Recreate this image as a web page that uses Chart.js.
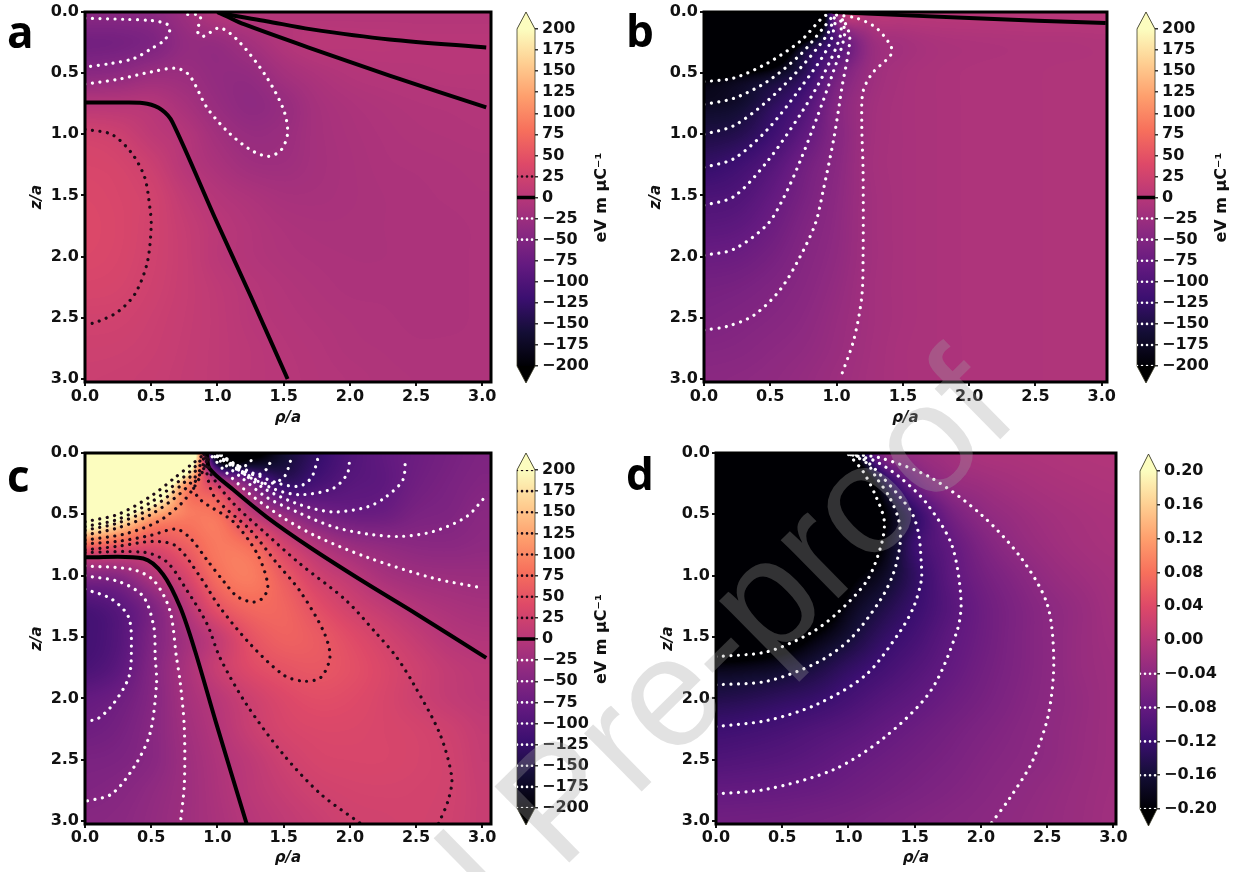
<!DOCTYPE html>
<html><head><meta charset="utf-8">
<style>
html,body{margin:0;padding:0;background:#fff;width:1238px;height:872px;overflow:hidden}
canvas{position:absolute;filter:blur(.4px)}
svg{position:absolute;left:0;top:0;pointer-events:none}
</style>
<script src="https://cdn.jsdelivr.net/npm/chart.js@4/dist/chart.umd.js"></script>
</head><body>
<canvas id="pa"></canvas><canvas id="ca"></canvas>
<canvas id="pb"></canvas><canvas id="cb"></canvas>
<canvas id="pc"></canvas><canvas id="cc"></canvas>
<canvas id="pd"></canvas><canvas id="cd"></canvas>
<svg width="1238" height="872">
<g font-family="Open Sans" font-weight="700" font-size="44" fill="#000">
<text x="7" y="48">a</text><text x="626" y="47">b</text><text x="7" y="492">c</text><text x="626" y="490">d</text>
</g>
<text x="167" y="1258" transform="rotate(-44.5 167 1258)" font-family="Liberation Sans" font-size="155" fill="rgba(160,160,160,.31)">Journal Pre-proof</text>
</svg>
<script>
// ---------- axes ----------
const axisTicks=[0,0.5,1,1.5,2,2.5,3];
const gridStep=0.25;
const barTicksField=[200,175,150,125,100,75,50,25,0,-25,-50,-75,-100,-125,-150,-175,-200];
const barTicksD=[0.2,0.16,0.12,0.08,0.04,0,-0.04,-0.08,-0.12,-0.16,-0.2];
const levelsA=[25,0,-25,-50];
const levelsB=[0,-25,-50,-75,-100,-125,-150,-175,-200];
const levelsC=[200,175,150,125,100,75,50,25,0,-25,-50,-75,-100,-125,-150,-175,-200];
const levelsD=[-0.04,-0.08,-0.12,-0.16,-0.2];
const magmaStops=['#000004','#140e36','#3b0f70','#641a80','#8c2981','#b73779','#de4968','#f7705c','#fe9f6d','#fecf92','#fcfdbf'];

// ---------- field values: rows z/a = 0..3, columns rho/a = 0..3, step .25 ----------
const fieldA=[
[-42,-43,-40,-25,-2,-1,-2,-3,-3,-3,-3,-3,-3],
[-64,-62,-54,-34,-31,-18,-5,2,2,2,1,1,1],
[-42,-38,-28,-27,-34,-33,-18,-9,-4,-2,-1,0,0],
[-1,-1,-2,-15,-30,-38,-30,-16,-10,-7,-5,-4,-3],
[26,21,7,-3,-20,-30,-27,-17,-12,-9,-7,-6,-5],
[33,30,19,0,-12,-22,-23,-17,-13,-10,-9,-8,-7],
[36,33,26,9,-3,-10,-15,-15,-13,-11,-10,-9,-8],
[37,34,26,14,3,-5,-10,-12,-12,-11,-10,-10,-9],
[36,33,25,15,3,-4,-8,-10,-11,-11,-10,-10,-9],
[32,30,23,15,7,0,-5,-8,-10,-10,-10,-10,-9],
[26,25,20,14,8,1,-3,-6,-8,-9,-10,-10,-9],
[22,21,18,13,8,3,-1,-4,-7,-8,-9,-9,-9],
[19,18,16,12,8,3,0,-3,-5,-7,-8,-9,-9]];
const fieldB=[
[-700,-700,-650,-550,-35,1,2,2,2,2,2,2,2],
[-500,-450,-350,-195,-100,-30,-18,-12,-10,-9,-8,-8,-7],
[-225,-205,-180,-138,-65,-27,-15,-11,-9,-8,-8,-7,-7],
[-175,-167,-137,-104,-48,-22,-14,-11,-9,-8,-8,-7,-7],
[-150,-143,-119,-85,-47,-21,-14,-11,-9,-8,-8,-7,-7],
[-127,-116,-96,-67,-43,-20,-14,-11,-9,-8,-8,-7,-7],
[-105,-100,-82,-60,-40,-21,-14,-11,-9,-8,-8,-7,-7],
[-90,-86,-72,-53,-38,-21,-14,-11,-9,-8,-8,-7,-7],
[-75,-72,-62,-48,-36,-21,-14,-11,-9,-8,-8,-7,-7],
[-63,-60,-53,-44,-33,-20,-14,-11,-9,-8,-8,-7,-7],
[-56,-52,-47,-40,-30,-20,-14,-11,-9,-8,-8,-7,-7],
[-48,-46,-41,-36,-28,-19,-13,-11,-9,-8,-8,-7,-7],
[-42,-40,-37,-32,-25,-18,-13,-11,-9,-8,-8,-7,-7]];
const fieldC=[
[500,500,500,400,-230,-220,-165,-128,-100,-84,-72,-62,-54],
[450,450,350,125,18,-58,-125,-108,-92,-85,-68,-58,-50],
[300,230,135,92,80,12,-30,-60,-73,-72,-58,-53,-43],
[72,58,42,62,88,75,28,-5,-27,-36,-41,-42,-38],
[-50,-45,-8,30,78,90,58,25,6,-14,-23,-26,-27],
[-105,-90,-55,-3,50,72,68,45,25,10,-4,-12,-16],
[-112,-95,-55,-20,13,50,65,58,42,27,12,-1,-6],
[-105,-88,-50,-15,17,40,51,55,47,35,22,10,4],
[-80,-70,-48,-18,2,22,37,44,41,33,22,12,6],
[-70,-62,-45,-22,-3,17,31,36,36,33,29,22,12],
[-58,-55,-44,-25,-8,7,22,31,33,33,30,25,14],
[-52,-47,-37,-25,-10,4,15,24,28,29,28,25,16],
[-45,-42,-34,-24,-12,0,9,17,24,26,27,24,16]];
const fieldD=[
[-.6,-.6,-.6,-.6,-.25,-.05,-.03,-.02,-.012,-.01,-.008,-.006,-.005],
[-.6,-.6,-.6,-.5,-.35,-.165,-.07,-.035,-.025,-.018,-.013,-.01,-.008],
[-.6,-.6,-.55,-.45,-.32,-.21,-.13,-.068,-.04,-.028,-.02,-.015,-.012],
[-.55,-.55,-.5,-.4,-.29,-.2,-.12,-.085,-.055,-.036,-.025,-.018,-.014],
[-.5,-.48,-.43,-.33,-.22,-.175,-.13,-.09,-.065,-.048,-.033,-.024,-.018],
[-.38,-.36,-.32,-.26,-.185,-.15,-.122,-.095,-.072,-.055,-.041,-.03,-.02],
[-.29,-.27,-.24,-.195,-.16,-.13,-.11,-.088,-.071,-.055,-.042,-.03,-.022],
[-.185,-.18,-.17,-.152,-.13,-.113,-.097,-.082,-.067,-.054,-.042,-.03,-.024],
[-.145,-.14,-.132,-.124,-.11,-.096,-.085,-.073,-.062,-.051,-.041,-.032,-.024],
[-.118,-.114,-.108,-.1,-.092,-.082,-.073,-.064,-.055,-.047,-.039,-.031,-.024],
[-.1,-.097,-.093,-.087,-.079,-.072,-.065,-.058,-.05,-.044,-.038,-.03,-.024],
[-.081,-.08,-.078,-.075,-.07,-.064,-.058,-.052,-.046,-.04,-.034,-.028,-.023],
[-.068,-.067,-.066,-.063,-.06,-.055,-.05,-.046,-.042,-.037,-.032,-.027,-.022]];

// ---------- contours: [level, [rho/a, z/a] ...] ----------
const contoursA=[
[-50,[[0,.05],[.3,.06],[.5,.07],[.62,.1],[.64,.15],[.6,.23],[.5,.3],[.37,.38],[.2,.42],[0,.45]]],
[-25,[[0,.59],[.25,.55],[.5,.49],[.69,.46],[.79,.52],[.92,.78],[1.07,.97],[1.24,1.12],[1.38,1.18],[1.48,1.13],[1.53,.99],[1.5,.8],[1.37,.53],[1.17,.25],[1.02,.13],[.89,.2],[.85,.16],[.87,.03],[.76,.02]]],
[0,[[0,.74],[.3,.74],[.47,.75],[.58,.8],[.66,.9],[.98,1.68],[1.25,2.32],[1.53,3.0]]],
[0,[[1,0],[1.1,.025],[1.37,.075],[1.7,.14],[2.3,.225],[3.03,.29]]],
[0,[[1,0],[1.06,.03],[1.2,.1],[1.7,.295],[2.3,.52],[3.03,.78]]],
[25,[[0,.96],[.2,1.0],[.35,1.15],[.45,1.35],[.49,1.6],[.5,1.75],[.47,2.05],[.38,2.3],[.25,2.45],[.1,2.53],[0,2.56]]]];
const contoursB=[
[-200,[[0,.57],[.224,.54],[.475,.42],[.725,.24],[.876,.065],[.94,.01]]],
[-175,[[0,.755],[.224,.706],[.475,.57],[.725,.35],[.9,.13],[.98,.02]]],
[-150,[[0,1.0],[.224,.93],[.475,.73],[.725,.46],[.926,.19],[.99,.03]]],
[-125,[[0,1.27],[.224,1.2],[.475,.965],[.725,.625],[.94,.28],[1.0,.04]]],
[-100,[[0,1.58],[.224,1.51],[.475,1.225],[.725,.84],[.9,.515],[1.03,.19],[1.03,.04]]],
[-75,[[0,1.99],[.224,1.94],[.475,1.74],[.6,1.52],[.725,1.22],[.85,.87],[.975,.49],[1.06,.19],[1.04,.04]]],
[-50,[[0,2.6],[.175,2.57],[.375,2.48],[.575,2.27],[.725,2.0],[.84,1.73],[.9,1.455],[.98,1.03],[1.04,.62],[1.1,.21],[1.05,.05]]],
[-25,[[1.0,.025],[1.15,.05],[1.3,.13],[1.41,.28],[1.41,.35],[1.27,.5],[1.2,.65],[1.19,.9],[1.2,1.3],[1.2,2.0],[1.19,2.33],[1.13,2.68],[1.03,2.99]]],
[0,[[.97,0],[2,.05],[3.03,.09]]]];
const contoursC=[
[200,[[0,.56],[.25,.5],[.5,.35],[.68,.2],[.82,.08],[.9,.01]]],
[175,[[0,.6],[.25,.54],[.5,.4],[.72,.22],[.85,.09],[.9,.01]]],
[150,[[0,.63],[.25,.57],[.5,.45],[.74,.25],[.87,.1],[.91,.01]]],
[125,[[0,.67],[.25,.61],[.5,.5],[.75,.3],[.88,.12],[.92,.01]]],
[100,[[0,.71],[.3,.66],[.55,.56],[.72,.42],[.83,.27],[.9,.12],[.93,.01]]],
[75,[[0,.74],[.25,.72],[.5,.67],[.69,.62],[.8,.7],[.92,.87],[1.05,1.05],[1.15,1.17],[1.27,1.215],[1.35,1.175],[1.38,1.07],[1.3,.82],[1.12,.56],[.87,.38],[.82,.27],[.9,.12],[.93,.02]]],
[50,[[0,.79],[.25,.76],[.52,.72],[.69,.76],[.87,1.01],[1.02,1.26],[1.25,1.56],[1.5,1.81],[1.65,1.86],[1.78,1.83],[1.85,1.66],[1.8,1.45],[1.62,1.12],[1.45,.9],[1.25,.63],[.98,.36],[.92,.16],[.93,.02]]],
[25,[[0,.81],[.45,.81],[.62,.89],[.77,1.12],[.92,1.39],[1.02,1.67],[1.22,2.05],[1.5,2.46],[1.78,2.78],[2.08,3.02]]],
[25,[[2.67,3.02],[2.74,2.84],[2.77,2.65],[2.68,2.29],[2.48,1.88],[2.35,1.66],[2.2,1.47],[1.97,1.2],[1.62,.9],[1.37,.66],[1.12,.41],[.95,.17],[.93,.02]]],
[0,[[0,.85],[.44,.86],[.59,.99],[.72,1.26],[.83,1.61],[.99,2.2],[1.22,3.02]]],
[0,[[.92,0],[.94,.125],[1.12,.3],[1.37,.52],[1.7,.77],[2.12,1.06],[2.5,1.31],[3.03,1.67]]],
[-25,[[.96,.03],[1.05,.14],[1.24,.33],[1.5,.53],[1.75,.68],[2.13,.85],[2.63,1.02],[3.0,1.1]]],
[-50,[[.98,.03],[1.17,.19],[1.37,.36],[1.62,.49],[1.87,.6],[2.13,.66],[2.38,.68],[2.63,.64],[2.88,.52],[3.02,.36]]],
[-75,[[1.0,.03],[1.17,.15],[1.37,.3],[1.62,.42],[1.87,.48],[2.13,.44],[2.27,.36],[2.4,.22],[2.42,.04]]],
[-100,[[1.0,.02],[1.17,.14],[1.42,.29],[1.62,.34],[1.87,.29],[1.98,.17],[2.0,.03]]],
[-125,[[1.02,.02],[1.24,.15],[1.47,.25],[1.62,.27],[1.71,.2],[1.76,.04]]],
[-150,[[1.03,.02],[1.2,.17],[1.37,.25],[1.5,.2],[1.56,.04]]],
[-175,[[1.03,.01],[1.17,.13],[1.3,.18],[1.38,.12],[1.41,.03]]],
[-200,[[1,.03],[1.14,.1],[1.22,.1],[1.27,.04]]],
[-25,[[0,.92],[.36,.95],[.52,1.04],[.64,1.28],[.69,1.66],[.72,1.88],[.75,2.24],[.75,2.7],[.72,3.02]]],
[-50,[[0,1.0],[.26,1.05],[.44,1.17],[.52,1.42],[.53,1.66],[.54,1.88],[.49,2.29],[.37,2.56],[.2,2.78],[0,2.84]]],
[-75,[[0,1.11],[.2,1.19],[.33,1.34],[.35,1.61],[.33,1.83],[.21,2.05],[.09,2.17],[0,2.18]]]];
const contoursD=[
[-.2,[[0,1.66],[.386,1.62],[.71,1.47],[.91,1.31],[1.14,1.04],[1.25,.74],[1.27,.55],[1.21,.36],[1.11,.15],[1.0,.01]]],
[-.16,[[0,1.89],[.386,1.86],[.76,1.71],[1.01,1.52],[1.24,1.2],[1.34,.98],[1.39,.74],[1.38,.55],[1.31,.36],[1.21,.2],[1.14,.085],[1.02,.01]]],
[-.12,[[0,2.23],[.386,2.18],[.76,2.05],[1.13,1.81],[1.38,1.47],[1.49,1.26],[1.55,1.04],[1.55,.9],[1.53,.66],[1.48,.49],[1.39,.36],[1.26,.2],[1.14,.07],[1.04,.01]]],
[-.08,[[0,2.78],[.386,2.74],[.89,2.58],[1.27,2.32],[1.62,1.94],[1.82,1.45],[1.85,1.2],[1.78,.75],[1.59,.41],[1.39,.2],[1.19,.06],[1.0,.01]]],
[-.04,[[1.0,.01],[1.24,.04],[1.62,.2],[2.0,.5],[2.3,.85],[2.5,1.23],[2.55,1.69],[2.51,2.13],[2.39,2.51],[2.22,2.81],[2.07,3.03]]]];

// ---------- colour map ----------
const lut=(()=>{const rgb=magmaStops.map(h=>[1,3,5].map(i=>parseInt(h.substr(i,2),16)));const o=[];
for(let i=0;i<=255;i++){const t=i/255*(rgb.length-1),k=Math.min(rgb.length-2,Math.floor(t)),f=t-k;
o.push([0,1,2].map(c=>rgb[k][c]+(rgb[k+1][c]-rgb[k][c])*f));}return o;})();
const colorAt=(v,vmax)=>lut[Math.max(0,Math.min(255,Math.round((v+vmax)/(2*vmax)*255)))];

const cr=(a,b,c,d,t)=>b+.5*t*(c-a+t*(2*a-5*b+4*c-d+t*(3*(b-c)+d-a)));
function sample(g,x,y){const n=g.length,m=g[0].length;
 const gx=Math.max(0,Math.min(m-1,x/gridStep)),gy=Math.max(0,Math.min(n-1,y/gridStep));
 const i=Math.min(m-2,Math.floor(gx)),j=Math.min(n-2,Math.floor(gy)),tx=gx-i,ty=gy-j;
 const col=jj=>{const r=g[Math.max(0,Math.min(n-1,jj))];const q=k=>r[Math.max(0,Math.min(m-1,k))];return cr(q(i-1),q(i),q(i+1),q(i+2),tx);};
 return cr(col(j-1),col(j),col(j+1),col(j+2),ty);}

const heatPlugin={id:'heat',beforeDatasetsDraw(chart){
 const {ctx,chartArea:a,scales:{x,y}}=chart,cfg=chart.options.plugins.heat;
 const L=Math.round(a.left),T=Math.round(a.top),W=Math.round(a.right-a.left),H=Math.round(a.bottom-a.top);
 const img=ctx.createImageData(W,H);
 for(let py=0;py<H;py++){const vy=y.getValueForPixel(T+py);
  for(let px=0;px<W;px++){const vx=x.getValueForPixel(L+px);
   const c=colorAt(sample(cfg.grid,vx,vy),cfg.vmax),o=(py*W+px)*4;
   img.data[o]=c[0];img.data[o+1]=c[1];img.data[o+2]=c[2];img.data[o+3]=255;}}
 ctx.putImageData(img,L,T);
}};
const framePlugin={id:'frame',afterDatasetsDraw(chart){const {ctx,chartArea:a}=chart;
 ctx.save();ctx.strokeStyle='#000';ctx.lineWidth=3;ctx.strokeRect(a.left,a.top,a.right-a.left,a.bottom-a.top);ctx.restore();}};

const lineStyle=lv=>lv===0?{borderColor:'#000',borderWidth:4,borderDash:[],borderCapStyle:'butt'}:
 {borderColor:lv<0?'#fff':'#1c0a16',borderWidth:3.2,borderDash:[.01,7.5],borderCapStyle:'round'};
const tickFont={family:'DejaVu Sans',weight:'bold',size:16};
const titleFont={family:'DejaVu Sans',weight:'bold',style:'italic',size:15};

function panel(id,box,grid,vmax,contours,xmax,ymax){
 const el=document.getElementById(id);el.width=box.w;el.height=box.h;el.style.left=box.l+'px';el.style.top=box.t+'px';
 const ds=contours.map(([lv,pts])=>Object.assign({data:pts.map(p=>({x:p[0],y:p[1]})),showLine:true,pointRadius:0,tension:.3,fill:false},lineStyle(lv)));
 const axis=extra=>Object.assign({type:'linear',min:0,
  afterBuildTicks(s){s.ticks=axisTicks.map(v=>({value:v}));},
  grid:{display:true,drawOnChartArea:false,drawTicks:true,tickLength:4,lineWidth:2,color:'#111'},
  border:{display:false}},extra);
 new Chart(el,{type:'scatter',data:{datasets:ds},plugins:[heatPlugin,framePlugin],options:{
  responsive:false,animation:false,events:[],
  layout:{autoPadding:false,padding:{left:box.left-57,top:box.top,right:box.w-box.right,bottom:box.pb}},
  plugins:{legend:{display:false},tooltip:{enabled:false},heat:{grid,vmax}},
  scales:{
   x:axis({max:xmax,position:'bottom',
    ticks:{font:tickFont,color:'#111',padding:box.xp,maxRotation:0,autoSkip:false,callback:v=>v.toFixed(1)},
    title:{display:true,text:'ρ/a',font:titleFont,color:'#111',padding:0},
    afterFit(s){s.height=box.h-box.pb-box.bottom;}}),
   y:axis({max:ymax,reverse:true,position:'left',
    ticks:{font:tickFont,color:'#111',padding:2,autoSkip:false,callback:v=>v.toFixed(1)},
    title:{display:true,text:'z/a',font:titleFont,color:'#111',padding:0},
    afterFit(s){s.width=57;}})
  }}});
}

const barPlugin={id:'bar',beforeDatasetsDraw(chart){
 const {ctx,chartArea:a,scales:{y}}=chart,cfg=chart.options.plugins.bar;
 const top=y.getPixelForValue(cfg.vmax),bot=y.getPixelForValue(-cfg.vmax),mid=(a.left+a.right)/2;
 const g=ctx.createLinearGradient(0,bot,0,top);
 magmaStops.forEach((c,i)=>g.addColorStop(i/(magmaStops.length-1),c));
 ctx.save();
 ctx.beginPath();ctx.moveTo(a.left,top);ctx.lineTo(mid,top-cfg.tip);ctx.lineTo(a.right,top);ctx.lineTo(a.right,bot);ctx.lineTo(mid,bot+cfg.tip);ctx.lineTo(a.left,bot);ctx.closePath();
 ctx.fillStyle='#000';ctx.fill();
 ctx.beginPath();ctx.moveTo(a.left,top);ctx.lineTo(mid,top-cfg.tip);ctx.lineTo(a.right,top);ctx.closePath();ctx.fillStyle=magmaStops[magmaStops.length-1];ctx.fill();
 ctx.fillStyle=g;ctx.fillRect(a.left,top,a.right-a.left,bot-top);
 ctx.beginPath();ctx.moveTo(a.left,top);ctx.lineTo(mid,top-cfg.tip);ctx.lineTo(a.right,top);ctx.lineTo(a.right,bot);ctx.lineTo(mid,bot+cfg.tip);ctx.lineTo(a.left,bot);ctx.closePath();
 ctx.strokeStyle='rgba(50,50,30,.75)';ctx.lineWidth=1;ctx.stroke();
 ctx.restore();
},afterDraw(chart){
 const cfg=chart.options.plugins.bar;if(!cfg.label)return;
 const {ctx,chartArea:a}=chart;ctx.save();ctx.translate(a.left+cfg.labelDx,(a.top+a.bottom)/2);ctx.rotate(-Math.PI/2);
 ctx.font='bold 16px "DejaVu Sans"';ctx.fillStyle='#111';ctx.textAlign='center';ctx.textBaseline='middle';ctx.fillText(cfg.label,0,0);ctx.restore();
}};

function colorbar(id,l,t,barW,y1,y2,levels,ticks,vmax,fmt,label){
 const w=118,h=y2-t+30,el=document.getElementById(id);el.width=w;el.height=h;el.style.left=(l-8)+'px';el.style.top=t+'px';
 const ds=levels.map(lv=>Object.assign({data:[{x:0,y:lv},{x:1,y:lv}],showLine:true,pointRadius:0,fill:false},lineStyle(lv),lv===0?{borderWidth:3.5}:{borderWidth:2.6,borderDash:[.01,5]}));
 new Chart(el,{type:'scatter',data:{datasets:ds},plugins:[barPlugin],options:{
  responsive:false,animation:false,events:[],
  layout:{autoPadding:false,padding:{left:8,top:y1-t,right:0,bottom:h-(y2-t)}},
  plugins:{legend:{display:false},tooltip:{enabled:false},bar:{vmax,tip:17,label,labelDx:85}},
  scales:{
   x:{type:'linear',display:false,min:0,max:1},
   y:{type:'linear',position:'right',min:-vmax,max:vmax,
    afterBuildTicks(s){s.ticks=ticks.map(v=>({value:v}));},
    afterFit(s){s.width=w-8-barW;},
    grid:{display:true,drawOnChartArea:false,drawTicks:true,tickLength:3,lineWidth:1.5,color:'#333'},
    border:{display:false},
    ticks:{font:tickFont,color:'#111',padding:4,autoSkip:false,callback:fmt}}
  }}});
}

const fmtInt=v=>(v<0?'−':'')+Math.abs(v);
const fmtDec=v=>(v<0?'−':'')+Math.abs(v).toFixed(2);
const unit='eV m μC⁻¹';

panel('pa',{l:0,t:0,w:510,h:435,left:85,right:491,top:12,bottom:382,pb:8,xp:1},fieldA,200,contoursA,3.066,3.025);
panel('pb',{l:620,t:0,w:510,h:435,left:84,right:487,top:12,bottom:382,pb:8,xp:1},fieldB,200,contoursB,3.04,3.025);
panel('pc',{l:0,t:440,w:510,h:430,left:85,right:491,top:13,bottom:384,pb:3,xp:0},fieldC,200,contoursC,3.066,3.024);
panel('pd',{l:630,t:440,w:510,h:430,left:86,right:486,top:13,bottom:384,pb:3,xp:0},fieldD,.2,contoursD,3.02,3.024);
colorbar('ca',517,0,18,29,366,levelsA,barTicksField,200,fmtInt,unit);
colorbar('cb',1137,0,18,29,366,levelsB,barTicksField,200,fmtInt,unit);
colorbar('cc',517,440,18,470,808,levelsC,barTicksField,200,fmtInt,unit);
colorbar('cd',1140,440,17,471,809,levelsD,barTicksD,.2,fmtDec,null);
</script>
</body></html>
